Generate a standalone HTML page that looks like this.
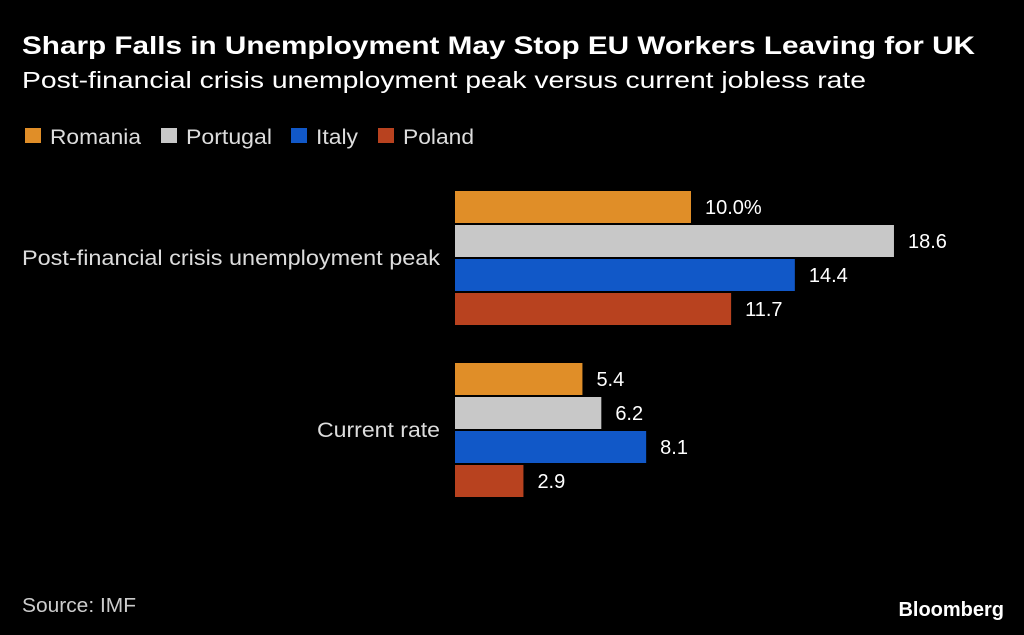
<!DOCTYPE html>
<html><head><meta charset="utf-8"><style>
body{margin:0;background:#000;}
svg{display:block;font-family:"Liberation Sans",sans-serif;}
</style></head><body>
<svg id="chart" width="1024" height="635" viewBox="0 0 1024 635">
<rect width="1024" height="635" fill="#000"/>
<text x="22" y="54" fill="#fff" font-size="25" font-weight="bold" textLength="953" lengthAdjust="spacingAndGlyphs">Sharp Falls in Unemployment May Stop EU Workers Leaving for UK</text>
<text x="22" y="88" fill="#fff" font-size="23" textLength="844" lengthAdjust="spacingAndGlyphs">Post-financial crisis unemployment peak versus current jobless rate</text>
<g id="legend"></g>
<g id="bars"></g>
<text x="22" y="612" fill="#ccc" font-size="20" textLength="114" lengthAdjust="spacingAndGlyphs">Source: IMF</text>
<text x="1004" y="616" fill="#fff" font-size="20" font-weight="bold" text-anchor="end">Bloomberg</text>
</svg>
<script>
const series = ["Romania","Portugal","Italy","Poland"];
const colors = ["#e08e28","#c8c8c8","#1158c8","#b8421f"];
const categories = ["Post-financial crisis unemployment peak","Current rate"];
const romania = [10.0, 5.4];
const portugal = [18.6, 6.2];
const italy = [14.4, 8.1];
const poland = [11.7, 2.9];
const labels = [["10.0%","18.6","14.4","11.7"],["5.4","6.2","8.1","2.9"]];
const vals=[romania,portugal,italy,poland];
const NS="http://www.w3.org/2000/svg";
const x0=455, scale=23.6;
const xs=v=>x0+v*scale;
const groupTop=[191,363], step=34, bh=32;
const catLen=[418,123];
const legLen=[91,86,42,71];
const lg=document.getElementById('legend');
const lx=[25,161,291,378];
series.forEach((s,i)=>{
 const r=document.createElementNS(NS,'rect');
 r.setAttribute('x',lx[i]);r.setAttribute('y',128);r.setAttribute('width',16);r.setAttribute('height',15);r.setAttribute('fill',colors[i]);
 
 
 lg.appendChild(r);
 const t=document.createElementNS(NS,'text');
 t.setAttribute('x',lx[i]+25);t.setAttribute('y',144);t.setAttribute('fill','#ddd');t.setAttribute('font-size','21');
 t.setAttribute('textLength',legLen[i]);t.setAttribute('lengthAdjust','spacingAndGlyphs');
 t.textContent=s;
 
 
 lg.appendChild(t);
});
const bg=document.getElementById('bars');
categories.forEach((c,g)=>{
 const t=document.createElementNS(NS,'text');
 t.setAttribute('x',440-catLen[g]);t.setAttribute('y',groupTop[g]+2*step+6);t.setAttribute('fill','#ddd');t.setAttribute('font-size','21');
 t.setAttribute('textLength',catLen[g]);t.setAttribute('lengthAdjust','spacingAndGlyphs');
 t.textContent=c;
 
 
 bg.appendChild(t);
 series.forEach((s,i)=>{
  const y=groupTop[g]+i*step, v=vals[i][g];
  const r=document.createElementNS(NS,'rect');
  r.setAttribute('x',x0);r.setAttribute('y',y);r.setAttribute('width',xs(v)-x0);r.setAttribute('height',bh);r.setAttribute('fill',colors[i]);
  
  
  bg.appendChild(r);
  const l=document.createElementNS(NS,'text');
  l.setAttribute('x',xs(v)+14);l.setAttribute('y',y+bh/2+7);l.setAttribute('fill','#fff');l.setAttribute('font-size','20');
  l.textContent=labels[g][i];
  
  
  bg.appendChild(l);
 });
});
</script>
</body></html>
